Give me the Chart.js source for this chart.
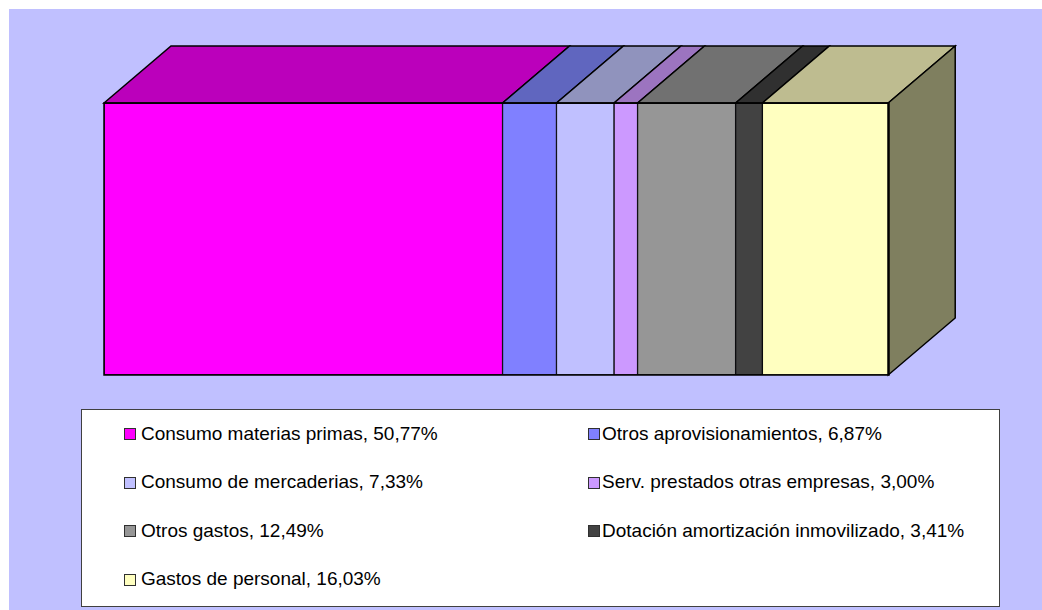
<!DOCTYPE html>
<html>
<head>
<meta charset="utf-8">
<script src="https://cdn.jsdelivr.net/npm/chart.js@4/dist/chart.umd.min.js"></script>
<style>
  html, body { margin: 0; padding: 0; background: #ffffff; }
  #wrap { position: relative; width: 1042px; height: 610px; overflow: hidden; }
  #bg { position: absolute; left: 9px; top: 9px; right: 0; bottom: 0; background: #C0C0FF; }
  #c { position: absolute; left: 0; top: 0; }
  #legend { position: absolute; left: 81px; top: 409px; width: 917px; height: 196px;
            background: #ffffff; border: 1px solid #404040; }
  .item { position: absolute; font-family: "Liberation Sans", Arial, sans-serif; font-size: 19px;
          line-height: 19px; color: #000; white-space: nowrap; }
  .mk { position: absolute; width: 10px; height: 10px; border: 1px solid #303030; }
</style>
</head>
<body>
<div id="wrap">
  <div id="bg"></div>
  <canvas id="c" width="1042" height="610"></canvas>
  <div id="legend"></div>
</div>
<script>
// ---- data ----
const categories = ["Gastos"];
const seriesNames = [
  "Consumo materias primas",
  "Otros aprovisionamientos",
  "Consumo de mercaderias",
  "Serv. prestados otras empresas",
  "Otros gastos",
  "Dotación amortización inmovilizado",
  "Gastos de personal"
];
const seriesValues = [50.77, 6.87, 7.33, 3.00, 12.49, 3.41, 16.03];
const valueLabels = ["50,77%", "6,87%", "7,33%", "3,00%", "12,49%", "3,41%", "16,03%"];

// ---- styles ----
const frontColors = ["#FF00FF", "#8080FF", "#C0C0FF", "#CC99FF", "#969696", "#424242", "#FFFFC0"];
const topColors   = ["#BB00BB", "#6066BF", "#9093BD", "#9C74C0", "#717171", "#303030", "#BEBC90"];
const sideColor = "#7F7F5F";
const depthX = 67, depthY = 57;

const datasets = seriesNames.map((name, i) => ({
  label: name + ", " + valueLabels[i],
  data: [seriesValues[i]],
  backgroundColor: frontColors[i],
  borderColor: "#000000",
  borderWidth: 1,
  borderSkipped: false,
  barPercentage: 1,
  categoryPercentage: 1
}));

const threeD = {
  id: "threeD",
  afterDatasetsDraw(chart) {
    const ctx = chart.ctx;
    ctx.save();
    ctx.lineWidth = 1.5;
    ctx.strokeStyle = "#000000";
    ctx.lineJoin = "miter";
    const n = chart.data.datasets.length;
    let lastEl = null;
    for (let d = 0; d < n; d++) {
      const meta = chart.getDatasetMeta(d);
      meta.data.forEach(el => {
        const p = el.getProps(["x", "y", "base", "height"], true);
        const left = Math.min(p.base, p.x), right = Math.max(p.base, p.x);
        const top = p.y - p.height / 2;
        ctx.beginPath();
        ctx.moveTo(left, top);
        ctx.lineTo(left + depthX, top - depthY);
        ctx.lineTo(right + depthX, top - depthY);
        ctx.lineTo(right, top);
        ctx.closePath();
        ctx.fillStyle = topColors[d];
        ctx.fill();
        ctx.stroke();
        if (d === n - 1) lastEl = { right, top, bottom: p.y + p.height / 2 };
      });
    }
    if (lastEl) {
      ctx.beginPath();
      ctx.moveTo(lastEl.right, lastEl.top);
      ctx.lineTo(lastEl.right + depthX, lastEl.top - depthY);
      ctx.lineTo(lastEl.right + depthX, lastEl.bottom - depthY);
      ctx.lineTo(lastEl.right, lastEl.bottom);
      ctx.closePath();
      ctx.fillStyle = sideColor;
      ctx.fill();
      ctx.stroke();
    }
    // front outline
    const a = chart.chartArea;
    const x0 = chart.scales.x.getPixelForValue(0), x1 = chart.scales.x.getPixelForValue(100);
    ctx.strokeRect(x0, a.top, x1 - x0, a.bottom - a.top);
    ctx.restore();
  }
};

new Chart(document.getElementById("c"), {
  type: "bar",
  data: { labels: categories, datasets },
  options: {
    indexAxis: "y",
    responsive: false,
    devicePixelRatio: 1,
    animation: false,
    layout: { padding: { left: 104, right: 153, top: 103, bottom: 235 } },
    scales: {
      x: { stacked: true, min: 0, max: 100, display: false },
      y: { stacked: true, display: false }
    },
    plugins: { legend: { display: false }, tooltip: { enabled: false } }
  },
  plugins: [threeD]
});

// ---- legend (HTML, two columns) ----
const legend = document.getElementById("legend");
const colMarkerX = [42, 506];
const colTextX = [59, 520];
const rowBaseline = [30, 78.5, 127, 175.5];
datasets.forEach((ds, i) => {
  const col = i % 2, row = Math.floor(i / 2);
  const mk = document.createElement("div");
  mk.className = "mk";
  mk.style.background = frontColors[i];
  mk.style.left = colMarkerX[col] + "px";
  mk.style.top = (rowBaseline[row] - 12) + "px";
  legend.appendChild(mk);
  const t = document.createElement("div");
  t.className = "item";
  t.textContent = ds.label;
  t.style.left = colTextX[col] + "px";
  t.style.top = (rowBaseline[row] - 16.1) + "px";
  legend.appendChild(t);
});
</script>
</body>
</html>
